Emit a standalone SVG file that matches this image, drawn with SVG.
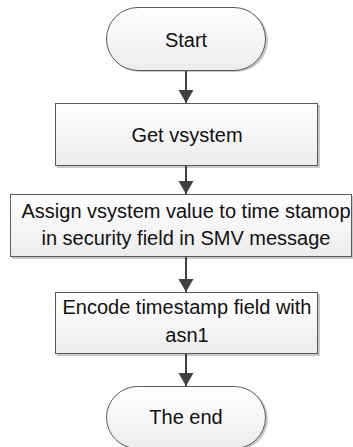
<svg xmlns="http://www.w3.org/2000/svg" width="353" height="447" viewBox="0 0 353 447">
<defs>
<linearGradient id="fillg" x1="0" y1="0" x2="0" y2="1">
<stop offset="0" stop-color="#ffffff"/>
<stop offset="1" stop-color="#ececec"/>
</linearGradient>
<marker id="arr" markerWidth="14" markerHeight="16" refX="13" refY="7.5" orient="auto" markerUnits="userSpaceOnUse">
<path d="M0,0 L13,7.5 L0,15 Z" fill="#404040"/>
</marker>
</defs>
<style>
.shape{fill:url(#fillg);stroke:#595959;stroke-width:1}
.shadow{fill:#c8c8c8}
.lbl{font-family:"Liberation Sans",Arial,sans-serif;font-size:20px;fill:#111;text-anchor:middle}
.conn{stroke:#404040;stroke-width:2;fill:none;marker-end:url(#arr)}
</style>
<rect width="353" height="447" fill="#ffffff"/>
<g id="start">
<rect class="shadow" x="108" y="9" width="160" height="63" rx="31.5"/>
<rect class="shape" x="106.5" y="7.5" width="159" height="63" rx="31.5"/>
<text class="lbl" x="186" y="47">Start</text>
</g>
<g id="get-vsystem">
<rect class="shadow" x="57" y="105" width="263" height="63"/>
<rect class="shape" x="55.5" y="103.5" width="262" height="62"/>
<text class="lbl" x="187" y="142">Get vsystem</text>
</g>
<g id="assign">
<rect class="shadow" x="12" y="196" width="342" height="63"/>
<rect class="shape" x="10.5" y="194.5" width="341" height="62"/>
<text class="lbl" x="186" y="218">Assign vsystem value to time stamop</text>
<text class="lbl" x="186" y="245">in security field in SMV message</text>
</g>
<g id="encode">
<rect class="shadow" x="57" y="294" width="263" height="62"/>
<rect class="shape" x="55.5" y="292.5" width="262" height="61"/>
<text class="lbl" x="187" y="314">Encode timestamp field with</text>
<text class="lbl" x="187" y="342">asn1</text>
</g>
<g id="end">
<rect class="shadow" x="108" y="388" width="160" height="62" rx="31"/>
<rect class="shape" x="106.5" y="386.5" width="159" height="62" rx="31"/>
<text class="lbl" x="186" y="424">The end</text>
</g>
<g id="connectors">
<line class="conn" x1="186" y1="71" x2="186" y2="103"/>
<line class="conn" x1="186" y1="166" x2="186" y2="194"/>
<line class="conn" x1="186" y1="257" x2="186" y2="292"/>
<line class="conn" x1="186" y1="354" x2="186" y2="386"/>
</g>
</svg>
